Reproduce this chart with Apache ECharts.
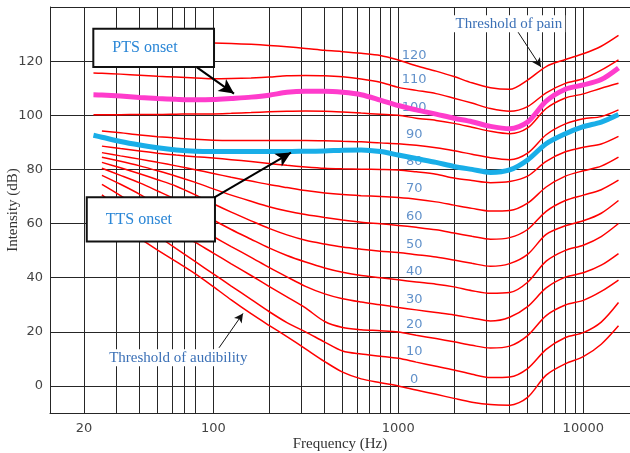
<!DOCTYPE html>
<html><head><meta charset="utf-8">
<script src="https://cdn.jsdelivr.net/npm/echarts@6/dist/echarts.min.js"></script>
<style>html,body{margin:0;padding:0;background:#fff}#c{width:630px;height:453px}</style>
</head><body><div id="c"></div>
<script>
// ---- data ----
const freqs = [22.5, 25, 31.5, 40, 50, 63, 80, 100, 125, 160, 200, 250, 315, 400, 500, 630, 800, 1000, 1250, 1600, 2000, 2500, 3150, 4000, 5000, 6300, 8000, 10000, 12500, 15500];

const phon0   = [null, 64.4, 59.3, 54.5, 50.2, 45.9, 41.4, 36.7, 31.8, 26.7, 22.4, 18.2, 13.7, 9.0, 5.1, 2.6, 1.2, 0, -1.5, -3.1, -4.6, -6.0, -6.9, -7.1, -4.2, 4.0, 8.2, 10.8, 15.4, 22.2];
const phon10  = [null, 70.6, 65.4, 60.3, 55.5, 50.7, 45.9, 41.4, 36.9, 32.0, 27.5, 23.4, 20.0, 16.2, 12.9, 11.8, 11.0, 10.2, 8.8, 7.3, 5.9, 4.3, 3.1, 3.3, 6.4, 13.5, 17.9, 19.7, 23.6, 30.8];
const phon20  = [null, 74.5, 70.3, 65.8, 61.7, 57.5, 53.0, 49.1, 45.1, 40.8, 36.8, 32.9, 28.8, 23.8, 21.6, 20.8, 20.4, 19.9, 18.7, 17.5, 16.3, 15.0, 14.0, 14.7, 18.6, 26.0, 29.9, 31.6, 34.9, 39.1];
const phon30  = [null, 77.8, 74.5, 70.8, 66.8, 62.8, 58.8, 55.2, 51.5, 47.5, 43.8, 40.3, 36.8, 34.0, 32.2, 31.0, 30.0, 29.0, 28.1, 27.1, 26.2, 25.1, 24.0, 25.4, 29.3, 36.2, 40.2, 41.8, 44.6, 48.9];
const phon40  = [null, 80.4, 77.8, 75.0, 72.0, 68.8, 65.0, 61.3, 57.8, 54.2, 51.0, 48.2, 45.8, 43.6, 42.0, 40.8, 40.0, 39.2, 38.4, 37.6, 36.6, 35.2, 34.2, 34.5, 38.3, 46.1, 50.1, 52.0, 55.2, 60.0];
const phon50  = [null, 82.6, 80.6, 78.4, 76.2, 73.8, 70.6, 67.3, 64.2, 61.0, 58.2, 55.8, 53.8, 52.4, 51.3, 50.5, 49.8, 49.3, 48.5, 47.6, 46.5, 45.3, 44.2, 45.2, 48.6, 56.0, 59.2, 61.0, 63.8, 68.5];
const phon60  = [null, 84.5, 83.0, 81.3, 79.5, 77.5, 75.2, 72.8, 70.5, 68.2, 66.2, 64.6, 63.3, 62.2, 61.3, 60.5, 59.9, 59.3, 58.6, 57.7, 56.5, 55.3, 54.2, 54.8, 57.8, 64.5, 68.5, 70.5, 72.5, 76.0];
const phon70  = [null, 86.2, 85.0, 83.8, 82.6, 81.3, 79.9, 78.5, 77.1, 75.7, 74.4, 73.3, 72.2, 71.3, 70.7, 70.3, 70.0, 69.6, 69.0, 68.0, 66.8, 65.6, 64.6, 64.8, 67.5, 73.5, 77.5, 79.5, 81.2, 84.5];
const phon80  = [null, 88.6, 87.7, 86.8, 86.0, 85.3, 84.7, 84.2, 83.6, 82.9, 82.2, 81.5, 80.9, 80.4, 80.2, 80.1, 80.0, 79.8, 79.1, 78.2, 76.8, 75.9, 75.1, 75.5, 77.5, 83.0, 86.5, 88.2, 89.4, 92.2];
const phon90  = [null, 94.2, 93.5, 92.7, 92.1, 91.6, 91.1, 90.8, 90.7, 90.7, 90.7, 90.7, 90.7, 90.6, 90.4, 90.2, 89.8, 89.5, 88.9, 88.0, 86.9, 85.6, 84.3, 83.6, 86.0, 92.8, 96.8, 98.7, 99.5, 102.0];
const phon100 = [100.2, 100.2, 100.2, 100.3, 100.3, 100.4, 100.5, 100.5, 100.7, 101.0, 101.3, 101.5, 101.6, 101.5, 101.2, 100.8, 100.4, 100.0, 98.9, 98.1, 97.0, 95.6, 94.1, 93.2, 95.3, 102.5, 106.4, 107.9, 110.0, 111.8];
const phon110 = [115.6, 115.5, 115.2, 114.8, 114.4, 114.1, 113.8, 113.5, 113.6, 113.8, 114.1, 114.6, 114.7, 114.6, 114.2, 113.4, 112.2, 110.3, 109.2, 108.0, 106.3, 104.5, 102.5, 101.5, 103.2, 108.3, 111.8, 113.5, 116.7, 120.5];
const phon120 = [null, null, null, null, null, null, 126.8, 126.7, 126.5, 126.2, 125.8, 125.3, 124.7, 124.0, 123.5, 122.9, 122.1, 120.4, 118.3, 116.3, 114.3, 112.0, 110.2, 109.6, 113.0, 118.0, 120.6, 122.7, 125.5, 129.5];

const ptsOnset = [107.6, 107.5, 107.1, 106.6, 106.2, 105.9, 105.7, 105.8, 106.2, 106.7, 107.4, 108.5, 108.9, 108.9, 108.5, 107.6, 105.6, 103.6, 102.0, 100.4, 98.9, 97.6, 95.9, 95.0, 97.5, 105.2, 109.6, 111.2, 113.2, 117.5];
const ttsOnset = [92.6, 91.9, 90.3, 89.0, 88.0, 87.2, 86.7, 86.6, 86.6, 86.6, 86.6, 86.6, 86.7, 86.8, 87.1, 87.2, 86.6, 85.3, 84.0, 82.6, 81.1, 80.0, 78.9, 79.8, 83.5, 89.5, 93.2, 95.8, 97.5, 100.3];

const contourLevels = [0, 10, 20, 30, 40, 50, 60, 70, 80, 90, 100, 110, 120];
const contours = [phon0, phon10, phon20, phon30, phon40, phon50, phon60, phon70, phon80, phon90, phon100, phon110, phon120];
const levelLabelFreq = 1250;

const xTickLabels = [20, 100, 1000, 10000];
const xGridFreqs = [20, 30, 40, 50, 60, 70, 80, 100, 200, 300, 400, 500, 600, 700, 800, 900, 1000, 2000, 3000, 4000, 5000, 6000, 7000, 8000, 9000, 10000];
const yTickLabels = [0, 20, 40, 60, 80, 100, 120];
const yGridLevels = [0, 20, 40, 60, 80, 100, 120, 140];

// ---- chart ----
const chart = echarts.init(document.getElementById('c'), null, {renderer: 'canvas'});
const pairs = vals => freqs.map((f, i) => [f, vals[i]]);
const li = freqs.indexOf(levelLabelFreq);

const serif = 'Liberation Serif';
const gridColor = '#262626';

const series = contours.map((vals, k) => ({
  type: 'line', name: contourLevels[k] + ' phon', data: pairs(vals),
  smooth: 0.3, showSymbol: false, symbol: 'none', connectNulls: false, silent: true,
  lineStyle: {color: '#ff0000', width: 1.5}, z: 2
}));

series.push({
  type: 'scatter', name: 'levels', symbolSize: 0, silent: true, z: 3,
  data: contourLevels.map((lv, k) => ({name: String(lv), value: [levelLabelFreq, contours[k][li]]})),
  label: {show: true, position: 'top', distance: 4, offset: [-2, 0], formatter: '{b}',
          color: '#3a76bd', fontSize: 13, fontFamily: 'DejaVu Sans'}
});

series.push({
  type: 'line', name: 'PTS onset', data: pairs(ptsOnset), smooth: 0.3, showSymbol: false, symbol: 'none',
  silent: true, lineStyle: {color: '#ff3ccc', width: 5}, z: 4
});
series.push({
  type: 'line', name: 'TTS onset', data: pairs(ttsOnset), smooth: 0.3, showSymbol: false, symbol: 'none',
  silent: true, lineStyle: {color: '#19aee8', width: 5}, z: 4
});

// annotations placed in data coordinates
series.push({
  type: 'line', name: 'notes', data: [], silent: true, z: 8,
  markArea: {
    silent: true, z: 8,
    itemStyle: {color: '#ffffff', borderColor: '#111', borderWidth: 2},
    label: {show: true, position: 'insideLeft', distance: 20, color: '#2a86d6', fontSize: 16, fontFamily: serif},
    data: [
      [{name: 'PTS onset', xAxis: 22.46, yAxis: 132.0}, {xAxis: 100.9, yAxis: 117.8}],
      [{name: 'TTS onset', xAxis: 20.7, yAxis: 69.7}, {xAxis: 102.1, yAxis: 53.4}]
    ]
  },
  markLine: {
    silent: true, z: 9, symbol: ['none', 'arrow'], label: {show: false},
    data: [
      [{coord: [81.6, 117.7], lineStyle: {color: '#000', width: 2, type: 'solid'}}, {coord: [129.4, 108.0], symbolSize: [11, 15]}],
      [{coord: [100.9, 69.6], lineStyle: {color: '#000', width: 2, type: 'solid'}}, {coord: [263, 86.2], symbolSize: [11, 15]}],
      [{coord: [4375, 131.4], lineStyle: {color: '#111', width: 1, type: 'solid'}}, {coord: [5905, 117.8], symbolSize: [7, 9]}],
      [{coord: [107.4, 14.1], lineStyle: {color: '#111', width: 1, type: 'solid'}}, {coord: [144.7, 26.8], symbolSize: [7, 9]}]
    ]
  },
  markPoint: {
    silent: true, z: 9, symbol: 'circle', symbolSize: 0,
    label: {show: true, position: 'inside', formatter: '{b}', color: '#3b70b6', fontSize: 15, fontFamily: serif,
            backgroundColor: '#ffffff', padding: [1, 3]},
    data: [
      {name: 'Threshold of pain', coord: [3963, 133.8]},
      {name: 'Threshold of audibility', coord: [64.7, 10.4]}
    ]
  }
});

chart.setOption({
  animation: false,
  backgroundColor: '#ffffff',
  grid: {left: 50, top: 7, right: 0, bottom: 40, containLabel: false, outerBoundsMode: 'none'},
  xAxis: {
    type: 'log', logBase: 10, min: 13.1, max: 17885,
    axisLine: {show: true, onZero: false, lineStyle: {color: gridColor, width: 1}},
    axisTick: {show: false, customValues: xGridFreqs},
    splitLine: {show: true, lineStyle: {color: gridColor, width: 1}},
    minorSplitLine: {show: false},
    axisLabel: {customValues: xTickLabels, color: '#444', fontSize: 13, margin: 9, fontFamily: 'DejaVu Sans',
                formatter: v => String(Math.round(v))},
    name: 'Frequency (Hz)', nameLocation: 'middle', nameGap: 24, nameMoveOverlap: false,
    nameTextStyle: {fontFamily: serif, fontSize: 15, color: '#333'}
  },
  yAxis: {
    type: 'value', min: -10, max: 140,
    axisLine: {show: true, onZero: false, lineStyle: {color: gridColor, width: 1}},
    axisTick: {show: false, customValues: yGridLevels},
    splitLine: {show: true, lineStyle: {color: gridColor, width: 1}},
    axisLabel: {customValues: yTickLabels, color: '#444', fontSize: 13, margin: 7, fontFamily: 'DejaVu Sans'},
    name: 'Intensity (dB)', nameLocation: 'middle', nameGap: 29, nameMoveOverlap: false,
    nameTextStyle: {fontFamily: serif, fontSize: 15, color: '#333'}
  },
  series: series
});
</script></body></html>
